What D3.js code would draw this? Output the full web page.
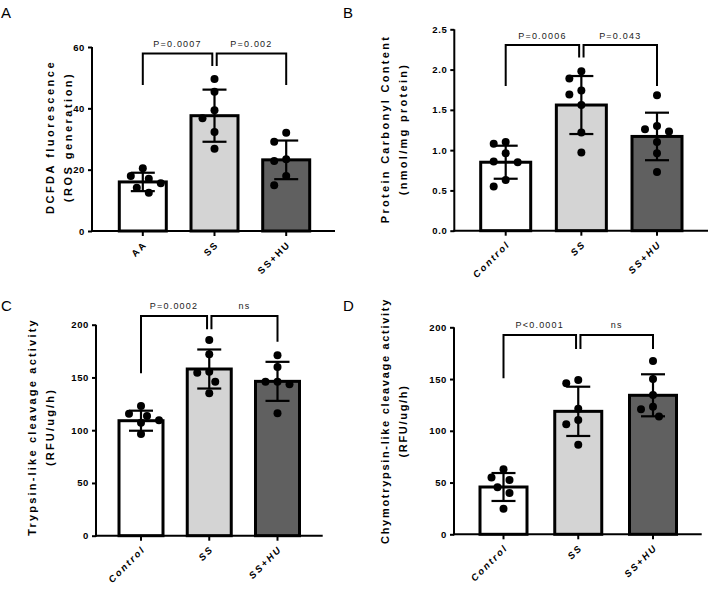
<!DOCTYPE html>
<html><head><meta charset="utf-8">
<script src="https://cdn.jsdelivr.net/npm/d3@7"></script>
<style>
html,body{margin:0;padding:0;background:#fff;}
svg{display:block;font-family:"Liberation Sans",Arial,sans-serif;}
</style></head>
<body>
<svg id="chart" width="709" height="599"></svg>
<script>
// ---------- DATA ----------
const categoriesA = ["AA", "SS", "SS+HU"];
const meansA = [16, 37.6, 23.2];
const sdA = [3, 8.5, 6.3];
const pointsA = [
  [17.9, 15.6, 17, 12.5, 20.5, 14.1],
  [49.6, 45.4, 39.4, 36.8, 32.3, 26.8],
  [32, 29.1, 23.4, 22.8, 17.9, 14.9]
];
const ticksA = [0, 20, 40, 60];
const pLabelsA = ["P=0.0007", "P=0.002"];

const categoriesB = ["Control", "SS", "SS+HU"];
const meansB = [0.85, 1.56, 1.17];
const sdB = [0.205, 0.36, 0.295];
const pointsB = [
  [1.08, 1.1, 0.96, 0.85, 0.86, 0.63, 0.55],
  [1.98, 1.89, 1.74, 1.69, 1.56, 1.22, 0.97],
  [1.68, 1.3, 1.26, 1.23, 1.1, 0.96, 0.73]
];
const ticksB = [0, 0.5, 1.0, 1.5, 2.0, 2.5];
const pLabelsB = ["P=0.0006", "P=0.043"];

const categoriesC = ["Control", "SS", "SS+HU"];
const meansC = [109, 158, 146.3];
const sdC = [9.5, 18.5, 18.5];
const pointsC = [
  [123, 113.5, 115.5, 109.5, 107, 96.5],
  [185.5, 172, 155.5, 154.5, 146, 135],
  [171, 160, 143.5, 146, 146, 116]
];
const ticksC = [0, 50, 100, 150, 200];
const pLabelsC = ["P=0.0002", "ns"];

const categoriesD = ["Control", "SS", "SS+HU"];
const meansD = [45.7, 118.8, 134.3];
const sdD = [13.5, 23.8, 20.3];
const pointsD = [
  [62.8, 54.8, 52.5, 45.4, 39.9, 24.8],
  [149, 146, 121.4, 110.5, 106.3, 86.6],
  [167.5, 150, 134.6, 123.3, 120.8, 113.7]
];
const ticksD = [0, 50, 100, 150, 200];
const pLabelsD = ["P<0.0001", "ns"];

// bracket levels in data units: [top, leg0, leg1, leg2]
const bracketA = [57.9, 47.6, 53.8, 47.6];
const bracketB = [2.304, 1.795, 2.151, 1.795];
const bracketC = [208.3, 153.9, 195.6, 183.9];
const bracketD = [192.6, 150.7, 179, 179];

const fills = ["#ffffff", "#d4d4d4", "#606060"];

// ---------- DRAW ----------
const svg = d3.select("#chart");
const defs = svg.append("defs");
const FONT = '"Liberation Sans",Arial,sans-serif';
let labelId = 0;

function drawPanel(p) {
  const g = svg.append("g");
  const y = d3.scaleLinear().domain([0, p.yMax]).range([p.y0, p.yTop]);
  const x = d3.scalePoint().domain(p.categories).range([p.c0, p.c2]);
  const bw = p.bw;

  // bars
  g.selectAll("rect.bar").data(p.categories).join("rect")
    .attr("class", "bar")
    .attr("x", d => x(d) - bw / 2)
    .attr("y", (d, i) => y(p.means[i]))
    .attr("width", bw)
    .attr("height", (d, i) => p.y0 - y(p.means[i]))
    .attr("fill", (d, i) => fills[i])
    .attr("stroke", "#000").attr("stroke-width", 3);

  // error bars
  p.categories.forEach((c, i) => {
    const cx = x(c), hi = y(p.means[i] + p.sd[i]), lo = y(p.means[i] - p.sd[i]);
    g.append("line").attr("x1", cx).attr("x2", cx).attr("y1", hi).attr("y2", lo)
      .attr("stroke", "#000").attr("stroke-width", 2.2);
    [hi, lo].forEach(yy => g.append("line").attr("x1", cx - 12).attr("x2", cx + 12)
      .attr("y1", yy).attr("y2", yy).attr("stroke", "#000").attr("stroke-width", 2.2));
  });

  // dots (simple beeswarm)
  const r = 4, D = 11, step = 6;
  p.categories.forEach((c, i) => {
    const pts = p.points[i].map(v => ({ v, py: y(v) })).sort((a, b) => a.py - b.py);
    const placed = [];
    pts.forEach(pt => {
      const offs = [0, -1, 1, -2, 2, -3, 3];
      for (const o of offs) {
        const px = x(c) + o * step;
        if (placed.every(q => Math.hypot(q.px - px, q.py - pt.py) >= D)) { pt.px = px; break; }
      }
      if (pt.px === undefined) pt.px = x(c);
      placed.push(pt);
    });
    g.selectAll(null).data(placed).join("circle")
      .attr("cx", d => d.px).attr("cy", d => d.py).attr("r", r).attr("fill", "#000");
  });

  // y axis
  const ya = g.append("g").attr("transform", `translate(${p.axisX},0)`)
    .call(d3.axisLeft(y).tickValues(p.ticks).tickFormat(p.fmt).tickSize(4).tickPadding(3).tickSizeOuter(0));
  ya.select(".domain").attr("stroke-width", 2).attr("d", `M0,${p.y0 + 1}V${p.yTop}`);
  ya.selectAll(".tick line").attr("stroke-width", 2);
  ya.selectAll(".tick text").attr("font-family", FONT).attr("font-size", 9.5)
    .attr("font-weight", "bold").attr("letter-spacing", "0.6px").attr("fill", "#000");

  // x axis
  g.append("line").attr("x1", p.axisX - 1).attr("x2", p.xEnd).attr("y1", p.y0).attr("y2", p.y0)
    .attr("stroke", "#000").attr("stroke-width", 2);
  p.categories.forEach(c => {
    g.append("line").attr("x1", x(c)).attr("x2", x(c)).attr("y1", p.y0).attr("y2", p.y0 + 5)
      .attr("stroke", "#000").attr("stroke-width", 2);
    // diagonal label along a 45° path ending just below the tick
    const id = "xlabpath" + (labelId++);
    const ex = x(c) + 5, ey = p.y0 + 14, L = 80;
    defs.append("path").attr("id", id).attr("d", `M${ex - L},${ey + L}L${ex},${ey}`);
    g.append("text").attr("font-family", FONT).attr("font-size", 9.5)
      .attr("font-weight", "bold").attr("font-style", p.italic ? "italic" : "normal")
      .attr("letter-spacing", "2px")
      .append("textPath").attr("href", "#" + id).attr("startOffset", "100%")
      .attr("text-anchor", "end").text(c);
  });

  // y title (two lines)
  p.ytitle.forEach((t, k) => {
    g.append("text").attr("transform", `translate(${p.ytx[k]},${p.yty}) rotate(-90)`)
      .attr("text-anchor", "middle").attr("font-family", FONT).attr("font-size", 11)
      .attr("font-weight", "bold").attr("letter-spacing", p.ls).text(t);
  });

  // brackets
  const b = p.bracket;
  const xs = p.categories.map(c => x(c));
  const gap = 2.2;
  const segs = [[xs[0], xs[1] - gap, b[1], b[2]], [xs[1] + gap, xs[2], b[2], b[3]]];
  segs.forEach((s, k) => {
    g.append("path").attr("d", `M${s[0]},${y(s[2])}V${y(b[0])}H${s[1]}V${y(s[3])}`)
      .attr("fill", "none").attr("stroke", "#000").attr("stroke-width", 2);
    g.append("text").attr("x", (s[0] + s[1]) / 2).attr("y", y(b[0]) - 6.5)
      .attr("text-anchor", "middle").attr("font-family", FONT).attr("font-size", 9)
      .attr("letter-spacing", "1.2px").attr("fill", "#222").text(p.pLabels[k]);
  });

  // panel letter
  svg.append("text").attr("x", p.letterX).attr("y", p.letterY).attr("font-family", FONT)
    .attr("font-size", 15).text(p.letter);
}

drawPanel({
  categories: categoriesA, means: meansA, sd: sdA, points: pointsA, ticks: ticksA, fmt: d3.format("d"),
  pLabels: pLabelsA, bracket: bracketA, yMax: 60, y0: 231, yTop: 47, c0: 142.8, c2: 286.2, bw: 47,
  axisX: 92, xEnd: 335, italic: false, ytitle: ["DCFDA fluorescence", "(ROS generation)"],
  ytx: [54, 72], yty: 137, ls: "2.5px", letter: "A", letterX: 1, letterY: 18
});
drawPanel({
  categories: categoriesB, means: meansB, sd: sdB, points: pointsB, ticks: ticksB, fmt: d3.format(".1f"),
  pLabels: pLabelsB, bracket: bracketB, yMax: 2.5, y0: 230.7, yTop: 29.3, c0: 505.7, c2: 657, bw: 50,
  axisX: 454.3, xEnd: 708, italic: true, ytitle: ["Protein Carbonyl Content", "(nmol/mg protein)"],
  ytx: [389, 407], yty: 129, ls: "2.3px", letter: "B", letterX: 343, letterY: 18
});
drawPanel({
  categories: categoriesC, means: meansC, sd: sdC, points: pointsC, ticks: ticksC, fmt: d3.format("d"),
  pLabels: pLabelsC, bracket: bracketC, yMax: 200, y0: 535.7, yTop: 324.7, c0: 141, c2: 277.5, bw: 44,
  axisX: 96, xEnd: 322.7, italic: true, ytitle: ["Trypsin-like cleavage activity", "(RFU/ug/h)"],
  ytx: [36, 54], yty: 427, ls: "2.2px", letter: "C", letterX: 1, letterY: 311
});
drawPanel({
  categories: categoriesD, means: meansD, sd: sdD, points: pointsD, ticks: ticksD, fmt: d3.format("d"),
  pLabels: pLabelsD, bracket: bracketD, yMax: 200, y0: 534.3, yTop: 327.3, c0: 503.5, c2: 653, bw: 47,
  axisX: 454, xEnd: 701.7, italic: true, ytitle: ["Chymotrypsin-like cleavage activity", "(RFU/ug/h)"],
  ytx: [389, 407], yty: 421, ls: "1.7px", letter: "D", letterX: 343, letterY: 311
});
</script>
</body></html>
